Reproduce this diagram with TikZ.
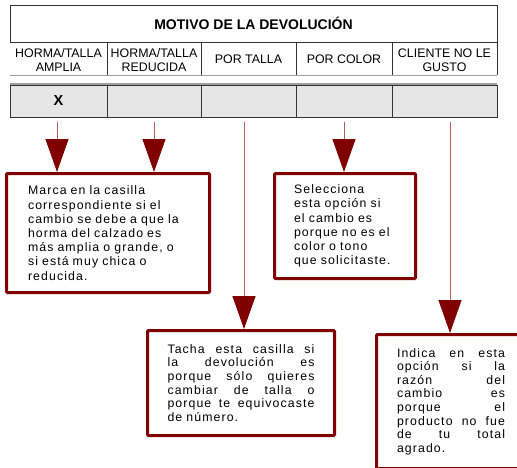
\documentclass[tikz,border=0pt]{standalone}
\usepackage{fontspec}
\setmainfont{Liberation Sans}
\newfontfamily\boxfont[LetterSpace=9]{Liberation Sans}
\usetikzlibrary{arrows.meta}
\definecolor{dred}{HTML}{800000}
\definecolor{lred}{HTML}{B85C5C}
\definecolor{cellgray}{HTML}{E6E6E6}
\definecolor{gridgray}{HTML}{333333}
\definecolor{lightline}{HTML}{A0A0A0}
\newcommand{\jlA}[1]{\makebox[147pt][s]{#1}}
\newcommand{\jlB}[1]{\makebox[108pt][s]{#1}}
\begin{document}
\begin{tikzpicture}[x=1pt,y=-1pt,
  note/.style={draw=dred, line width=3pt, rounded corners=1pt, fill=white, anchor=north west,
    inner sep=0pt, align=left, font=\boxfont\fontsize{12.3}{14.2}\selectfont},
  conn/.style={draw=lred, line width=1pt, -{Triangle[length=33pt,width=23pt,color=dred]}},
  head/.style={inner sep=0pt, align=center, font=\fontsize{12.4}{14.4}\selectfont},
  cell/.style={draw=gridgray, fill=cellgray, line width=0.8pt, anchor=north west,
    minimum height=32pt, inner sep=0pt, outer sep=0pt, font=\bfseries\fontsize{14.5}{17}\selectfont},
  grid/.style={draw=gridgray, line width=0.8pt}]
\useasboundingbox (0,0) rectangle (517,467);
\clip (0,0) rectangle (517,467);

% title
\node[grid, anchor=north west, minimum width=487pt, minimum height=37pt, inner sep=0pt, outer sep=0pt,
  font=\bfseries\fontsize{14}{16}\selectfont] (title) at (10,5) {MOTIVO DE LA DEVOLUCIÓN};

% header row
\node[head] (h1) at (58.5,60) {HORMA/TALLA\\AMPLIA};
\node[head] (h2) at (154,60) {HORMA/TALLA\\REDUCIDA};
\node[head] (h3) at (248.5,59.5) {POR TALLA};
\node[head] (h4) at (344,59.5) {POR COLOR};
\node[head] (h5) at (444.5,60) {CLIENTE NO LE\\GUSTO};
\draw[grid] (107,42) -- (107,75) (201,42) -- (201,75) (296,42) -- (296,75) (392,42) -- (392,75) (497,42) -- (497,75);
\draw[lightline, line width=0.8pt] (10,75) -- (497,75);

% grey row
\node[cell, minimum width=97pt] (g1) at (10,85) {X};
\node[cell, minimum width=94pt] (g2) at (107,85) {};
\node[cell, minimum width=95pt] (g3) at (201,85) {};
\node[cell, minimum width=96pt] (g4) at (296,85) {};
\node[cell, minimum width=105pt] (g5) at (392,85) {};
\draw[lightline, line width=1.5pt] (10,84) -- (497,84);

% notes
\node[note, minimum width=203pt, minimum height=119pt, text width=160pt] (b1) at (5,172)
  {Marca en la casilla\\correspondiente si el\\cambio se debe a que la\\horma del calzado es\\más amplia o grande, o\\si está muy chica o\\reducida.};
\node[note, minimum width=141pt, minimum height=105pt, text width=102pt] (b2) at (273,172)
  {Selecciona\\esta opción si\\el cambio es\\porque no es el\\color o tono\\que solicitaste.};
\node[note, minimum width=187pt, minimum height=105pt, text width=147pt,
  font=\boxfont\fontsize{12.3}{13.7}\selectfont] (b3) at (146,329)
  {\jlA{Tacha\hfill esta\hfill casilla\hfill si}\\
   \jlA{la\hfill devolución\hfill es}\\
   \jlA{porque\hfill sólo\hfill quieres}\\
   \jlA{cambiar\hfill de\hfill talla\hfill o}\\
   \jlA{porque\hfill te\hfill equivocaste}\\
   de número.};
\node[note, minimum width=149pt, minimum height=134pt, text width=108pt,
  font=\boxfont\fontsize{12.3}{13.6}\selectfont] (b5) at (375,333)
  {\jlB{Indica\hfill en\hfill esta}\\
   \jlB{opción\hfill si\hfill la}\\
   \jlB{razón\hfill del}\\
   \jlB{cambio\hfill es}\\
   \jlB{porque\hfill el}\\
   \jlB{producto\hfill no\hfill fue}\\
   \jlB{de\hfill tu\hfill total}\\
   agrado.};

% connectors
\coordinate (a1) at (57,122);
\coordinate (a2) at (154,122);
\coordinate (a3) at (244,122);
\coordinate (a4) at (344,122);
\coordinate (a5) at (450,122);
\draw[conn] (a1) -- (a1 |- b1.north);
\draw[conn] (a2) -- (a2 |- b1.north);
\draw[conn] (a3) -- (a3 |- b3.north);
\draw[conn] (a4) -- (a4 |- b2.north);
\draw[conn] (a5) -- (a5 |- b5.north);
\end{tikzpicture}
\end{document}
